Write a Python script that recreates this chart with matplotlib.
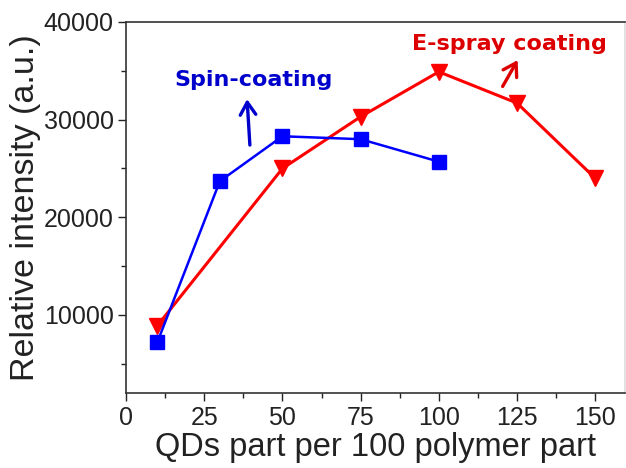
import matplotlib
matplotlib.use("Agg")
import matplotlib.pyplot as plt
from matplotlib.ticker import AutoMinorLocator

spin_x = [10, 30, 50, 75, 100]
spin_y = [7200, 23700, 28300, 28000, 25700]
spray_x = [10, 50, 75, 100, 125, 150]
spray_y = [8900, 25000, 30300, 34900, 31700, 24000]
xticks = [0, 25, 50, 75, 100, 125, 150]
yticks = [10000, 20000, 30000, 40000]

plt.rcParams['font.family'] = ['Liberation Sans', 'DejaVu Sans']

fig = plt.figure(figsize=(6.26, 4.68), dpi=100)
ax = fig.add_axes([0.2013, 0.160, 0.797, 0.793])

ax.plot(spin_x, spin_y, color='#0000ff', lw=1.8, marker='s', markersize=9.5, zorder=3)
ax.plot(spray_x, spray_y, color='#ff0000', lw=2.2, marker='v', markersize=11, zorder=2)

ax.set_xlim(0, 159.5)
ax.set_ylim(2000, 40000)
ax.set_xticks(xticks)
ax.set_yticks(yticks)
ax.xaxis.set_minor_locator(AutoMinorLocator(2))
ax.yaxis.set_minor_locator(AutoMinorLocator(2))
ax.tick_params(which='both', direction='out', labelsize=18, colors='#222222')
ax.tick_params(which='major', length=6, width=1, pad=3)
ax.tick_params(which='minor', length=3.5, width=1)
for s in ax.spines.values():
    s.set_linewidth(1.2)
    s.set_color('#333333')
ax.spines['right'].set_color('#dddddd')

ax.set_xlabel('QDs part per 100 polymer part', fontsize=23.5, color='#222222', labelpad=2)
ax.set_ylabel('Relative intensity (a.u.)', fontsize=24.5, color='#222222', labelpad=2)

ax.text(40.9, 34100, 'Spin-coating', color='#0000cc', fontsize=16, fontweight='bold',
        ha='center', va='center', family=['DejaVu Sans'])
ax.text(122.7, 37700, 'E-spray coating', color='#dd0000', fontsize=16, fontweight='bold',
        ha='center', va='center', family=['DejaVu Sans'])
ax.annotate('', xy=(38.7, 32100), xytext=(39.6, 27400),
            arrowprops=dict(arrowstyle='->,head_length=0.45,head_width=0.28', color='#0000cc',
                            lw=2.4, mutation_scale=20, shrinkA=0, shrinkB=0))
ax.annotate('', xy=(125.2, 36100), xytext=(120.4, 33400),
            arrowprops=dict(arrowstyle='->,head_length=0.45,head_width=0.28', color='#dd0000',
                            lw=2.4, mutation_scale=20, shrinkA=0, shrinkB=0))

fig.savefig('out.png', dpi=100)
